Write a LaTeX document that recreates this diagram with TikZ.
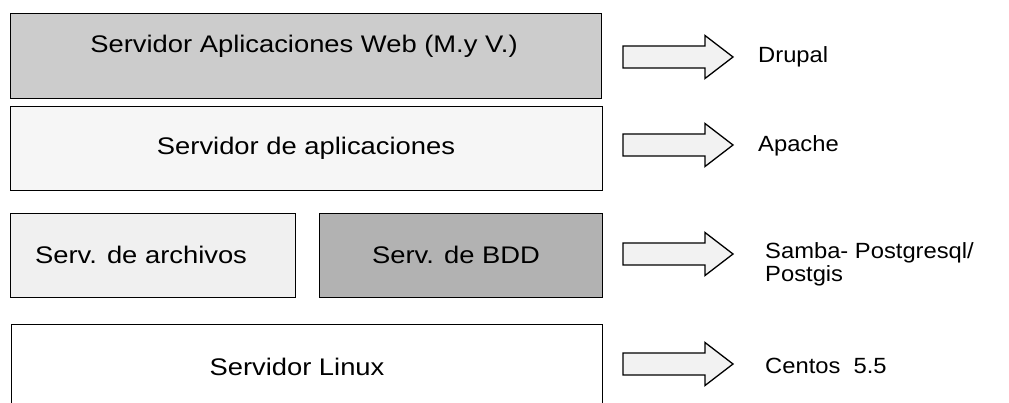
\documentclass[tikz,border=0pt]{standalone}
\usepackage{fontspec}
\setmainfont{Liberation Sans}
\newcommand\wideA[1]{\scalebox{1.14}[1]{#1}}
\newcommand\wideB[1]{\scalebox{1.08}[1]{#1}}
\begin{document}
\begin{tikzpicture}[x=1pt,y=-1pt,
  box/.style={draw=black, line width=1.4pt, inner sep=0pt, anchor=north west},
  lab/.style={font=\fontsize{24}{28}\selectfont, inner sep=0pt},
  side/.style={font=\fontsize{22}{23}\selectfont, inner sep=0pt, anchor=west, align=left},
  barrow/.style={draw=black, line width=1.3pt, fill=gray!10, line join=miter}]
\useasboundingbox (0,0) rectangle (1009,403);
% boxes
\node[box, fill=gray!40, minimum width=591pt, minimum height=85pt] (b1) at (10,13) {};
\node[box, fill=gray!7, minimum width=592pt, minimum height=84pt] (b2) at (10,106) {};
\node[box, fill=gray!12, minimum width=285pt, minimum height=84pt] (b3a) at (10,213) {};
\node[box, fill=gray!60, minimum width=283pt, minimum height=84pt] (b3b) at (319,213) {};
\begin{scope}
\clip (0,0) rectangle (1009,403);
\node[box, fill=white, minimum width=591pt, minimum height=120pt] (b4) at (11,324) {};
\end{scope}
% box texts
\node[lab] (t1) at (304,46) {\wideA{Servidor Aplicaciones Web (M.y V.)}};
\node[lab] (t2) at (306,148) {\wideA{Servidor de aplicaciones}};
\node[lab] (t3a) at (141,255) {\wideA{Serv. de archivos}};
\node[lab] (t3b) at (456,255) {\wideA{Serv. de BDD}};
\node[lab] (t4) at (297,367) {\wideA{Servidor Linux}};
% block arrows
\coordinate (a1) at (623,57);
\coordinate (a2) at (623,145);
\coordinate (a3) at (623,254);
\coordinate (a4) at (623,364);
\foreach \a in {a1,a2,a3,a4}{
  \draw[barrow, shift={(\a)}] (0,-11) -- (82,-11) -- (82,-21.5) -- (110,0) -- (82,21.5) -- (82,11) -- (0,11) -- cycle;
}
% right labels
\node[side] (r1) at (758,57) {\wideB{Drupal}};
\node[side] (r2) at (758,146) {\wideB{Apache}};
\node[side] (r3) at (765,264) {\wideB{Samba- Postgresql/}\\\wideB{Postgis}};
\node[side] (r4) at (765,366) {\wideB{Centos\ \ 5.5}};
\end{tikzpicture}
\end{document}
